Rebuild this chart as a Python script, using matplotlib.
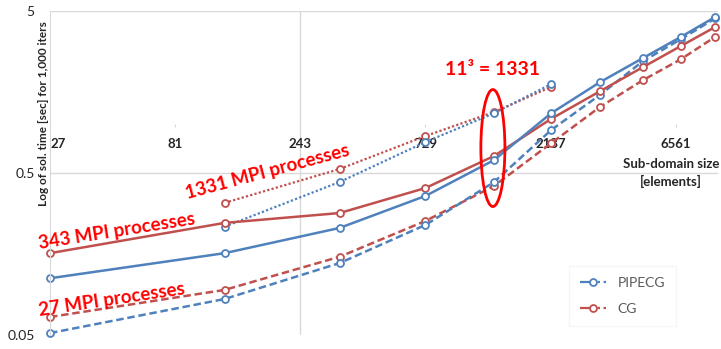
import matplotlib
matplotlib.use('Agg')
import matplotlib.pyplot as plt
from matplotlib.patches import Ellipse
from matplotlib.lines import Line2D
from matplotlib.ticker import NullLocator

plt.rcParams['font.family'] = ['Lato', 'DejaVu Sans']

# sub-domain sizes n^3, n = 3, 5, ..., 21
sizes = [27, 125, 343, 729, 1331, 2197, 3375, 4913, 6859, 9261]
sizes_1331 = [125, 343, 729, 1331, 2197]

# solve time [sec] for 1,000 iterations
pipecg_343 = [0.112, 0.160, 0.229, 0.361, 0.601, 1.17, 1.82, 2.56, 3.46, 4.59]
cg_343 = [0.160, 0.246, 0.283, 0.404, 0.637, 1.08, 1.60, 2.25, 3.04, 3.98]
pipecg_27 = [0.0514, 0.0834, 0.139, 0.239, 0.440, 0.921, 1.52, 2.45, 3.35, 4.50]
cg_27 = [0.0646, 0.0949, 0.152, 0.253, 0.416, 0.764, 1.28, 1.87, 2.52, 3.46]
pipecg_1331 = [0.233, 0.440, 0.777, 1.17, 1.77]
cg_1331 = [0.327, 0.529, 0.846, 1.19, 1.70]

x_ticks = [27, 81, 243, 729, 2187, 6561]
y_ticks = [0.05, 0.5, 5]
y_tick_labels = ['0.05', '0.5', '5']

blue = '#4F81BD'
red = '#C0504D'
grid = '#D9D9D9'

fig = plt.figure(figsize=(7.21, 3.49), dpi=100)
ax = fig.add_axes([50 / 721, 14 / 349, 668 / 721, 324 / 349])
ax.set_xscale('log')
ax.set_yscale('log')
ax.set_xlim(27, 9500)
ax.set_ylim(0.05, 5)

for s in ['top', 'right']:
    ax.spines[s].set_visible(False)
ax.spines['left'].set_color(grid)
ax.spines['bottom'].set_position(('data', 1.0))
ax.spines['bottom'].set_color('none')

ax.set_xticks(x_ticks)
ax.set_xticklabels([str(t) for t in x_ticks])
ax.xaxis.set_minor_locator(NullLocator())
ax.set_yticks(y_ticks)
ax.set_yticklabels(y_tick_labels)
ax.yaxis.set_minor_locator(NullLocator())
ax.tick_params(axis='x', length=2, color=grid, pad=8, labelsize=9.5,
               labelcolor='#262626')
ax.tick_params(axis='y', length=0, pad=11, labelsize=10, labelcolor='#262626')
for lab in ax.get_xticklabels():
    lab.set_fontweight('bold')
# first size label sits right against the vertical axis title
ax.get_xticklabels()[0].set_horizontalalignment('left')

for yv in [5, 0.5]:
    ax.axhline(yv, color=grid, lw=1, zorder=0)
ax.axvline(243, color=grid, lw=1, zorder=0)

mk = dict(marker='o', ms=5, mfc='white', mew=1.3, clip_on=False)
ax.plot(sizes_1331, cg_1331, color=red, lw=1.6, ls=(0, (1, 1)), **mk)
ax.plot(sizes_1331, pipecg_1331, color=blue, lw=1.6, ls=(0, (1, 1)), **mk)
ax.plot(sizes, cg_27, color=red, lw=1.8, ls=(0, (3, 1.5)), **mk)
ax.plot(sizes, pipecg_27, color=blue, lw=1.8, ls=(0, (3, 1.5)), **mk)
ax.plot(sizes, cg_343, color=red, lw=1.8, **mk)
ax.plot(sizes, pipecg_343, color=blue, lw=1.8, **mk)

txt = dict(color='red', fontweight='bold', ha='center', va='center',
           rotation_mode='anchor', transform=ax.transAxes)
ax.text(0.100, 0.321, '343 MPI processes', fontsize=13.5, rotation=9, **txt)
ax.text(0.093, 0.108, '27 MPI processes', fontsize=13.5, rotation=8.5, **txt)
ax.text(0.325, 0.503, '1331 MPI processes', fontsize=13.5, rotation=15, **txt)
ax.text(0.663, 0.818, '11³ = 1331', fontsize=14, **txt)

ax.add_patch(Ellipse((0.663, 0.577), 0.036, 0.361, transform=ax.transAxes,
                     fill=False, edgecolor='red', lw=2, zorder=5))

ax.text(0.93, 0.50, 'Sub-domain size\n[elements]', transform=ax.transAxes,
        ha='center', va='center', fontsize=9.5, fontweight='bold',
        color='#262626', linespacing=1.5)

ax.text(-0.009, 0.682, 'Log of sol. time [sec] for 1,000 iters',
        transform=ax.transAxes, rotation=90, ha='center', va='center',
        fontsize=8.5, fontweight='bold', color='#262626', zorder=6)

handles = [
    Line2D([], [], color=blue, lw=1.6, ls='-.', marker='o', ms=5,
           mfc='white', mew=1.3),
    Line2D([], [], color=red, lw=1.6, ls='-.', marker='o', ms=5,
           mfc='white', mew=1.3),
]
ax.legend(handles, ['PIPECG', 'CG'], loc='upper left',
          bbox_to_anchor=(562 / 721, 1 - 259 / 349),
          bbox_transform=fig.transFigure, fontsize=10, labelcolor='#595959',
          frameon=True, fancybox=False, edgecolor='#F4F4F4',
          handlelength=1.9, labelspacing=1.0, borderpad=0.8)

fig.savefig('out.png', dpi=100)
